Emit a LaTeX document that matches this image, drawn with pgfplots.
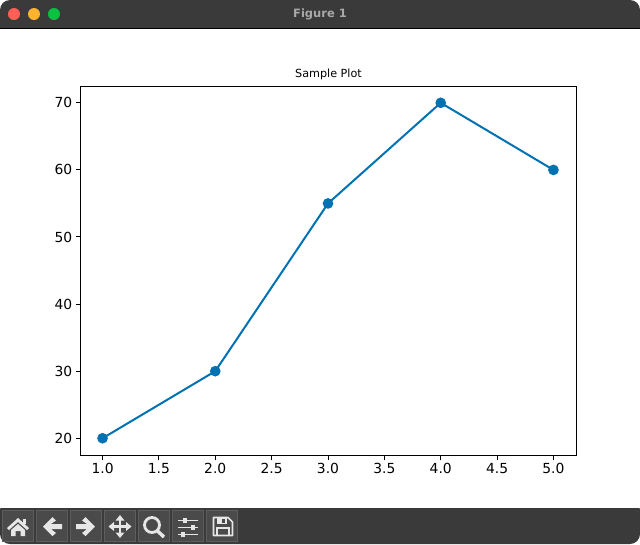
\documentclass[border=0pt]{standalone}
\usepackage{fontspec}
\setmainfont{DejaVu Sans}
\usepackage{pgfplots}
\pgfplotsset{compat=1.18}
\definecolor{linecol}{HTML}{0072B2}
\definecolor{barcol}{HTML}{3A3A3A}
\definecolor{btncol}{HTML}{4A4A4A}
\definecolor{btnedge}{HTML}{5E5E5E}
\definecolor{iconcol}{HTML}{E6E6E6}
\definecolor{titlegrey}{HTML}{A8A8A8}
\definecolor{closecol}{HTML}{FF5F57}
\definecolor{mincol}{HTML}{FEB32F}
\definecolor{maxcol}{HTML}{0AC142}
\begin{document}
\begin{tikzpicture}
% window chrome, in reference pixels from the top left
\begin{scope}[x=.75pt,y=-.75pt]
\useasboundingbox (0,0) rectangle (640,544);
\fill[barcol,rounded corners=7.5pt] (0,40) -- (0,0) -- (640,0) -- (640,40) -- cycle;
\fill[barcol,rounded corners=7.5pt] (0,500) -- (0,544) -- (640,544) -- (640,500) -- cycle;
\fill[white] (0,28) rectangle (640,508);
\draw[black,line width=.75pt] (0,28.5) -- (640,28.5);
\fill[closecol] (14,14) circle (6);
\fill[mincol] (34,14) circle (6);
\fill[maxcol] (54,14) circle (6);
\node[text=titlegrey,font=\bfseries\fontsize{8.6pt}{10pt}\selectfont] at (320,14) {Figure 1};
% toolbar buttons
\foreach \bx in {2.5,36.5,70.5,104.5,138.5,172.5,206.5}
  \draw[fill=btncol,draw=btnedge,line width=.6pt] (\bx,510.5) rectangle (\bx+31,541.5);
% home
\fill[iconcol] (18,518) -- (29,528) -- (27,530) -- (18,522) -- (9,530) -- (7,528) -- cycle;
\fill[iconcol] (23,519) rectangle (26,524);
\fill[iconcol] (18,524) -- (25,530) -- (25,536) -- (20.5,536) -- (20.5,531) -- (15.5,531) -- (15.5,536) -- (11,536) -- (11,530) -- cycle;
% back
\fill[iconcol] (43,526.5) -- (52.5,517) -- (56,520.5) -- (51,524) -- (62,524) -- (62,529) -- (51,529) -- (56,533) -- (52.5,536) -- cycle;
% forward
\fill[iconcol] (95,526.5) -- (85.5,517) -- (82,520.5) -- (87,524) -- (76,524) -- (76,529) -- (87,529) -- (82,533) -- (85.5,536) -- cycle;
% move
\draw[iconcol,line width=1.6pt] (120,519) -- (120,533) (112,526.5) -- (128,526.5);
\fill[iconcol] (120,515) -- (124.5,520.5) -- (115.5,520.5) -- cycle;
\fill[iconcol] (120,538) -- (124.5,532.5) -- (115.5,532.5) -- cycle;
\fill[iconcol] (108.5,526.5) -- (114,522) -- (114,531) -- cycle;
\fill[iconcol] (131.5,526.5) -- (126,522) -- (126,531) -- cycle;
% zoom
\draw[iconcol,line width=2.1pt] (152,525) circle (7.5);
\draw[iconcol,line width=2.6pt] (157.5,531) -- (164,537);
% subplots
\draw[iconcol,line width=.9pt] (178,520.5) -- (198,520.5) (178,527.5) -- (198,527.5) (178,534.5) -- (198,534.5);
\fill[iconcol] (183,518) rectangle (187,523);
\fill[iconcol] (191,525) rectangle (195,530);
\fill[iconcol] (181,532) rectangle (185,537);
% save
\draw[iconcol,line width=1.2pt,line join=round] (213.5,517.5) -- (228,517.5) -- (232.5,522) -- (232.5,535.5) -- (213.5,535.5) -- cycle;
\fill[iconcol] (217,517.5) rectangle (227,524);
\fill[btncol] (222,518.5) rectangle (224.5,522.5);
\draw[iconcol,line width=1pt] (217,535.5) -- (217,528) -- (229,528) -- (229,535.5);
\end{scope}
\begin{axis}[
  at={(60.375pt,-341.625pt)},
  anchor=south west,
  scale only axis,
  width=372pt,
  height=276.75pt,
  xmin=0.8044, xmax=5.2044,
  ymin=17.43, ymax=72.43,
  xtick={1,1.5,2,2.5,3,3.5,4,4.5,5},
  ytick={20,30,40,50,60,70},
  tick align=outside,
  tick pos=left,
  axis line style={line width=.75pt},
  tick style={black,line width=.75pt},
  major tick length=3.6pt,
  ticklabel style={font=\fontsize{10.4pt}{12pt}\selectfont},
  xticklabel style={/pgf/number format/.cd,fixed,fixed zerofill,precision=1,assume math mode=true},
  yticklabel style={/pgf/number format/assume math mode=true},
  xticklabel shift=-1pt,
  yticklabel shift=-1pt,
  title={Sample Plot},
  title style={font=\fontsize{8.4pt}{10pt}\selectfont,yshift=-4.75pt},
]
\addplot[color=linecol,line width=1.5pt,mark=*,mark size=3.2pt,mark options={solid,fill=linecol,draw=none}]
  coordinates {(1,20) (2,30) (3,55) (4,70) (5,60)};
\end{axis}
\end{tikzpicture}
\end{document}
